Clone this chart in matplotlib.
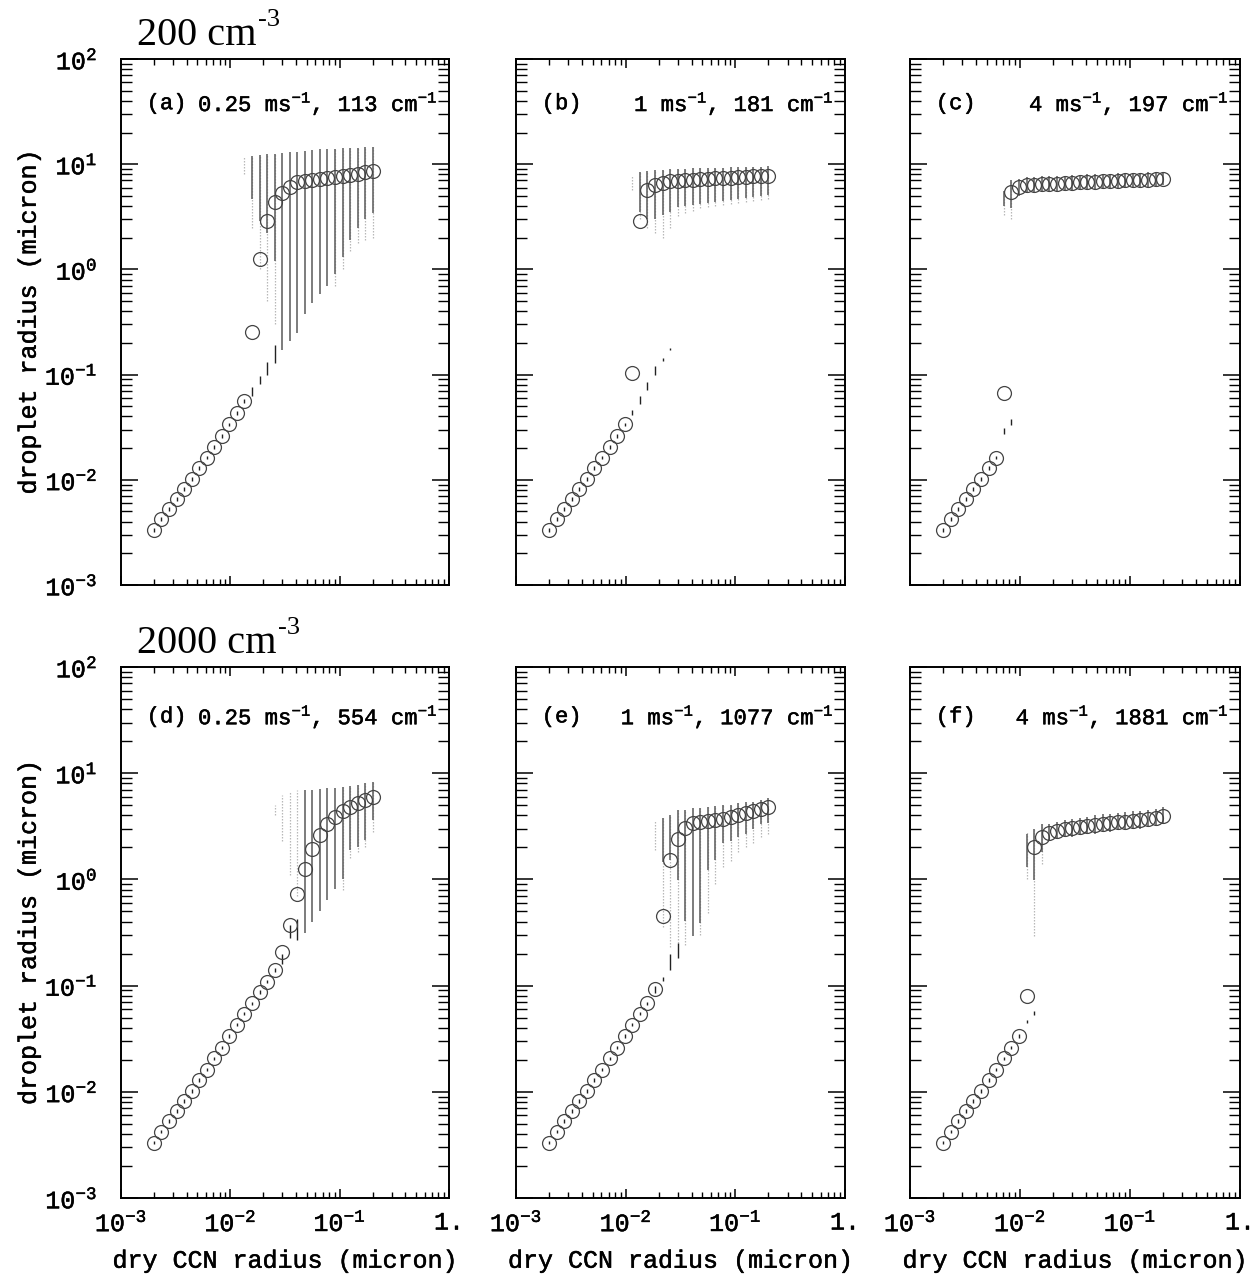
import numpy as np
import matplotlib
matplotlib.use("Agg")
import matplotlib.pyplot as plt
import matplotlib.patheffects as pe
from matplotlib.ticker import FixedLocator, FixedFormatter, LogLocator, NullFormatter

NA = None

# ---------------- data ----------------
DRY_RADIUS = [0.002, 0.002344, 0.002748, 0.003221, 0.003776, 0.004427, 0.005189, 0.006082,
              0.007130, 0.008358, 0.009797, 0.011484, 0.013462, 0.015780, 0.018497, 0.021683,
              0.025417, 0.029794, 0.034924, 0.040938, 0.047988, 0.056252, 0.065939, 0.077295,
              0.090605, 0.106208, 0.124498, 0.145936, 0.171068, 0.2]

X_TICKS = [1e-3, 1e-2, 1e-1, 1.0]
X_TICK_LABELS = [r"$\mathregular{10^{-3}}$", r"$\mathregular{10^{-2}}$", r"$\mathregular{10^{-1}}$", "1."]
Y_TICKS = [1e-3, 1e-2, 1e-1, 1e0, 1e1, 1e2]
Y_TICK_LABELS = [r"$\mathregular{10^{-3}}$", r"$\mathregular{10^{-2}}$", r"$\mathregular{10^{-1}}$",
                 r"$\mathregular{10^{0}}$", r"$\mathregular{10^{1}}$", r"$\mathregular{10^{2}}$"]

ROW_TITLES = ["200 cm", "2000 cm"]
ROW_TITLE_EXP = "-3"
PANEL_TAGS = ["(a)", "(b)", "(c)", "(d)", "(e)", "(f)"]
UPDRAFT = ["0.25", "1", "4", "0.25", "1", "4"]
DROPLET_CONC = ["113", "181", "197", "554", "1077", "1881"]
X_LABEL = "dry CCN radius (micron)"
Y_LABEL = "droplet radius (micron)"

# panel (a)
MEAN_A = [0.00333, 0.00422, 0.00528, 0.00656, 0.00818, 0.0102, 0.0129, 0.0162, 0.0206, 0.0261,
          0.0337, 0.0429, 0.0561, 0.256, 1.26, 2.90, 4.34, 5.36, 6.11, 6.73,
          6.97, 7.15, 7.30, 7.45, 7.60, 7.75, 7.90, 8.10, 8.35, 8.67]
HAZE_LO_A = [0.0032, 0.00405, 0.00507, 0.0063, 0.00785, 0.0098, 0.0124, 0.0156, 0.0198, 0.0251,
             0.0324, 0.0412, 0.0538, 0.062, 0.081, 0.099, 0.13, NA, NA, NA,
             NA, NA, NA, NA, NA, NA, NA, NA, NA, NA]
HAZE_HI_A = [0.00346, 0.00439, 0.00549, 0.00682, 0.0085, 0.0106, 0.0134, 0.0168, 0.0214, 0.0271,
             0.035, 0.0446, 0.0585, 0.077, 0.096, 0.132, 0.19, NA, NA, NA,
             NA, NA, NA, NA, NA, NA, NA, NA, NA, NA]
ACT_LO_A = [NA, NA, NA, NA, NA, NA, NA, NA, NA, NA,
            NA, NA, NA, 4.7, 2.9, 2.2, 1.2, 0.17, 0.21, 0.25,
            0.38, 0.48, 0.58, 0.70, 0.90, 1.3, 1.9, 2.5, 3.0, 3.4]
ACT_HI_A = [NA, NA, NA, NA, NA, NA, NA, NA, NA, NA,
            NA, NA, NA, 12.0, 12.2, 12.4, 12.6, 12.8, 13.0, 13.2,
            13.4, 13.6, 13.8, 14.0, 14.1, 14.2, 14.3, 14.4, 14.5, 14.6]
FAINT_LO_A = [NA, NA, NA, NA, NA, NA, NA, NA, NA, NA,
              NA, NA, 8.0, 2.5, 1.0, 0.5, 0.3, NA, NA, NA,
              NA, NA, NA, NA, 0.7, 1.0, 1.5, 1.8, 1.9, 2.0]
FAINT_HI_A = [NA, NA, NA, NA, NA, NA, NA, NA, NA, NA,
              NA, NA, 12.0, 12.0, 12.2, 12.4, 12.6, NA, NA, NA,
              NA, NA, NA, NA, 14.0, 14.1, 14.2, 14.3, 14.4, 14.5]

# panel (b)
MEAN_B = [0.00333, 0.00422, 0.00528, 0.00656, 0.00818, 0.0102, 0.0129, 0.0162, 0.0206, 0.0261,
          0.0340, 0.103, 2.88, 5.69, 6.34, 6.67, 6.85, 6.95, 7.02, 7.10,
          7.18, 7.25, 7.32, 7.40, 7.47, 7.54, 7.60, 7.66, 7.72, 7.78]
HAZE_LO_B = [0.0032, 0.00405, 0.00507, 0.0063, 0.00785, 0.0098, 0.0124, 0.0156, 0.0198, 0.0251,
             0.0324, 0.041, 0.053, 0.072, 0.10, 0.135, 0.17, NA, NA, NA,
             NA, NA, NA, NA, NA, NA, NA, NA, NA, NA]
HAZE_HI_B = [0.00346, 0.00439, 0.00549, 0.00682, 0.0085, 0.0106, 0.0134, 0.0168, 0.0214, 0.0271,
             0.035, 0.0464, 0.062, 0.085, 0.12, 0.145, 0.18, NA, NA, NA,
             NA, NA, NA, NA, NA, NA, NA, NA, NA, NA]
ACT_LO_B = [NA, NA, NA, NA, NA, NA, NA, NA, NA, NA,
            NA, NA, 3.5, 3.0, 3.0, 3.3, 3.5, 3.9, 4.0, 4.1,
            4.2, 4.3, 4.4, 4.5, 4.6, 4.7, 4.8, 4.9, 5.0, 5.1]
ACT_HI_B = [NA, NA, NA, NA, NA, NA, NA, NA, NA, NA,
            NA, NA, 8.5, 8.6, 8.8, 8.9, 9.0, 9.1, 9.1, 9.2,
            9.2, 9.3, 9.3, 9.3, 9.4, 9.4, 9.5, 9.5, 9.5, 9.6]
FAINT_LO_B = [NA, NA, NA, NA, NA, NA, NA, NA, NA, NA,
              NA, 5.7, 3.0, 2.5, 2.2, 2.0, 2.5, 3.2, 3.4, 3.6,
              3.8, 3.9, 4.0, 4.1, 4.2, 4.3, 4.4, 4.5, 4.6, 4.7]
FAINT_HI_B = [NA, NA, NA, NA, NA, NA, NA, NA, NA, NA,
              NA, 7.9, 8.5, 8.6, 8.8, 8.9, 9.0, 9.1, 9.1, 9.2,
              9.2, 9.3, 9.3, 9.3, 9.4, 9.4, 9.5, 9.5, 9.5, 9.6]

# panel (c)
MEAN_C = [0.00333, 0.00422, 0.00528, 0.00656, 0.00818, 0.0102, 0.0129, 0.0162, 0.0664, 5.4,
          6.1, 6.3, 6.4, 6.45, 6.5, 6.55, 6.6, 6.65, 6.7, 6.75,
          6.8, 6.85, 6.9, 6.95, 7.0, 7.05, 7.1, 7.15, 7.2, 7.3]
HAZE_LO_C = [0.0032, 0.00405, 0.00507, 0.0063, 0.00785, 0.0098, 0.0124, 0.0156, 0.027, 0.033,
             NA, NA, NA, NA, NA, NA, NA, NA, NA, NA,
             NA, NA, NA, NA, NA, NA, NA, NA, NA, NA]
HAZE_HI_C = [0.00346, 0.00439, 0.00549, 0.00682, 0.0085, 0.0106, 0.0134, 0.0168, 0.031, 0.038,
             NA, NA, NA, NA, NA, NA, NA, NA, NA, NA,
             NA, NA, NA, NA, NA, NA, NA, NA, NA, NA]
ACT_LO_C = [NA, NA, NA, NA, NA, NA, NA, NA, 4.0, 3.8,
            5.0, 5.3, 5.4, 5.4, 5.5, 5.5, 5.6, 5.6, 5.7, 5.7,
            5.8, 5.8, 5.9, 5.9, 6.0, 6.0, 6.1, 6.1, 6.2, 6.3]
ACT_HI_C = [NA, NA, NA, NA, NA, NA, NA, NA, 5.6, 7.0,
            7.3, 7.5, 7.6, 7.7, 7.7, 7.8, 7.8, 7.9, 7.9, 8.0,
            8.0, 8.1, 8.1, 8.2, 8.2, 8.3, 8.3, 8.4, 8.4, 8.5]
FAINT_LO_C = [NA, NA, NA, NA, NA, NA, NA, NA, 3.3, 3.0,
              NA, NA, NA, NA, NA, NA, NA, NA, NA, NA,
              NA, NA, NA, NA, NA, NA, NA, NA, NA, NA]
FAINT_HI_C = [NA, NA, NA, NA, NA, NA, NA, NA, 5.6, 7.0,
              NA, NA, NA, NA, NA, NA, NA, NA, NA, NA,
              NA, NA, NA, NA, NA, NA, NA, NA, NA, NA]

# panel (d)
MEAN_D = [0.00333, 0.00422, 0.00528, 0.00656, 0.00818, 0.0102, 0.0129, 0.0162, 0.0206, 0.0261,
          0.0335, 0.0426, 0.054, 0.068, 0.0865, 0.109, 0.140, 0.209, 0.372, 0.724,
          1.25, 1.92, 2.62, 3.30, 3.89, 4.40, 4.84, 5.21, 5.60, 5.93]
HAZE_LO_D = [0.0032, 0.00405, 0.00507, 0.0063, 0.00785, 0.0098, 0.0124, 0.0156, 0.0198, 0.0251,
             0.0324, 0.0412, 0.0523, 0.0653, 0.0835, 0.106, 0.134, 0.16, 0.28, 0.27,
             NA, NA, NA, NA, NA, NA, NA, NA, NA, NA]
HAZE_HI_D = [0.00346, 0.00439, 0.00549, 0.00682, 0.0085, 0.0106, 0.0134, 0.0168, 0.0214, 0.0271,
             0.035, 0.0446, 0.0567, 0.0707, 0.0905, 0.114, 0.146, 0.20, 0.37, 0.42,
             NA, NA, NA, NA, NA, NA, NA, NA, NA, NA]
ACT_LO_D = [NA, NA, NA, NA, NA, NA, NA, NA, NA, NA,
            NA, NA, NA, NA, NA, NA, NA, NA, NA, NA,
            0.31, 0.40, 0.50, 0.64, 0.82, 1.0, 1.9, 2.0, 2.35, 3.6]
ACT_HI_D = [NA, NA, NA, NA, NA, NA, NA, NA, NA, NA,
            NA, NA, NA, NA, NA, NA, NA, NA, NA, NA,
            6.95, 7.0, 7.1, 7.2, 7.3, 7.4, 7.5, 7.8, 8.0, 8.3]
FAINT_LO_D = [NA, NA, NA, NA, NA, NA, NA, NA, NA, NA,
              NA, NA, NA, NA, NA, NA, 4.0, 2.3, 1.1, 0.7,
              NA, NA, NA, NA, NA, 0.8, 1.6, 1.8, 2.0, 2.8]
FAINT_HI_D = [NA, NA, NA, NA, NA, NA, NA, NA, NA, NA,
              NA, NA, NA, NA, NA, NA, 5.0, 6.2, 6.6, 6.95,
              NA, NA, NA, NA, NA, 7.4, 7.5, 7.8, 8.0, 8.3]

# panel (e)
MEAN_E = [0.00333, 0.00422, 0.00528, 0.00656, 0.00818, 0.0102, 0.0129, 0.0162, 0.0206, 0.0261,
          0.0335, 0.0426, 0.054, 0.068, 0.093, 0.452, 1.52, 2.42, 3.03, 3.37,
          3.49, 3.57, 3.62, 3.73, 3.89, 4.04, 4.25, 4.44, 4.60, 4.84]
HAZE_LO_E = [0.0032, 0.00405, 0.00507, 0.0063, 0.00785, 0.0098, 0.0124, 0.0156, 0.0198, 0.0251,
             0.0324, 0.0412, 0.0523, 0.0653, 0.086, 0.11, 0.14, 0.18, NA, NA,
             NA, NA, NA, NA, NA, NA, NA, NA, NA, NA]
HAZE_HI_E = [0.00346, 0.00439, 0.00549, 0.00682, 0.0085, 0.0106, 0.0134, 0.0168, 0.0214, 0.0271,
             0.035, 0.0446, 0.0567, 0.0707, 0.10, 0.12, 0.20, 0.25, NA, NA,
             NA, NA, NA, NA, NA, NA, NA, NA, NA, NA]
ACT_LO_E = [NA, NA, NA, NA, NA, NA, NA, NA, NA, NA,
            NA, NA, NA, NA, NA, 1.46, 1.52, 0.99, 0.41, 0.29,
            0.39, 1.23, 1.52, 2.2, 2.3, 2.5, 2.7, 3.0, 3.3, 3.4]
ACT_HI_E = [NA, NA, NA, NA, NA, NA, NA, NA, NA, NA,
            NA, NA, NA, NA, NA, 3.8, 4.0, 4.5, 4.5, 4.7,
            4.7, 4.8, 4.9, 5.0, 5.0, 5.2, 5.4, 5.4, 5.6, 5.8]
FAINT_LO_E = [NA, NA, NA, NA, NA, NA, NA, NA, NA, NA,
              NA, NA, NA, NA, 1.9, 0.36, 0.23, 0.25, 0.24, NA,
              0.3, 0.48, 0.9, 1.3, 1.5, 1.8, 2.0, 2.2, 2.5, 2.7]
FAINT_HI_E = [NA, NA, NA, NA, NA, NA, NA, NA, NA, NA,
              NA, NA, NA, NA, 3.6, 3.8, 4.0, 4.5, 4.5, NA,
              4.7, 4.8, 4.9, 5.0, 5.0, 5.2, 5.4, 5.4, 5.6, 5.8]

# panel (f)
MEAN_F = [0.00333, 0.00422, 0.00528, 0.00656, 0.00818, 0.0102, 0.0129, 0.0162, 0.0206, 0.0261,
          0.0335, 0.0798, 2.03, 2.52, 2.72, 2.88, 2.96, 3.03, 3.10, 3.19,
          3.25, 3.33, 3.37, 3.45, 3.49, 3.57, 3.62, 3.71, 3.81, 3.95]
HAZE_LO_F = [0.0032, 0.00405, 0.00507, 0.0063, 0.00785, 0.0098, 0.0124, 0.0156, 0.0198, 0.0251,
             0.0324, 0.044, 0.053, NA, NA, NA, NA, NA, NA, NA,
             NA, NA, NA, NA, NA, NA, NA, NA, NA, NA]
HAZE_HI_F = [0.00346, 0.00439, 0.00549, 0.00682, 0.0085, 0.0106, 0.0134, 0.0168, 0.0214, 0.0271,
             0.035, 0.047, 0.058, NA, NA, NA, NA, NA, NA, NA,
             NA, NA, NA, NA, NA, NA, NA, NA, NA, NA]
ACT_LO_F = [NA, NA, NA, NA, NA, NA, NA, NA, NA, NA,
            NA, 1.3, 0.99, 1.8, 2.3, 2.4, 2.5, 2.5, 2.6, 2.7,
            2.7, 2.8, 2.8, 2.9, 2.9, 3.0, 3.0, 3.1, 3.2, 3.3]
ACT_HI_F = [NA, NA, NA, NA, NA, NA, NA, NA, NA, NA,
            NA, 2.7, 3.0, 3.3, 3.3, 3.5, 3.6, 3.7, 3.8, 3.9,
            4.0, 4.1, 4.1, 4.2, 4.3, 4.4, 4.4, 4.5, 4.6, 4.8]
FAINT_LO_F = [NA, NA, NA, NA, NA, NA, NA, NA, NA, NA,
              NA, 1.0, 0.29, 1.4, NA, NA, NA, NA, NA, NA,
              NA, NA, NA, NA, NA, NA, NA, NA, NA, NA]
FAINT_HI_F = [NA, NA, NA, NA, NA, NA, NA, NA, NA, NA,
              NA, 2.8, 3.0, 3.3, NA, NA, NA, NA, NA, NA,
              NA, NA, NA, NA, NA, NA, NA, NA, NA, NA]

PANELS = [
    (MEAN_A, HAZE_LO_A, HAZE_HI_A, ACT_LO_A, ACT_HI_A, FAINT_LO_A, FAINT_HI_A),
    (MEAN_B, HAZE_LO_B, HAZE_HI_B, ACT_LO_B, ACT_HI_B, FAINT_LO_B, FAINT_HI_B),
    (MEAN_C, HAZE_LO_C, HAZE_HI_C, ACT_LO_C, ACT_HI_C, FAINT_LO_C, FAINT_HI_C),
    (MEAN_D, HAZE_LO_D, HAZE_HI_D, ACT_LO_D, ACT_HI_D, FAINT_LO_D, FAINT_HI_D),
    (MEAN_E, HAZE_LO_E, HAZE_HI_E, ACT_LO_E, ACT_HI_E, FAINT_LO_E, FAINT_HI_E),
    (MEAN_F, HAZE_LO_F, HAZE_HI_F, ACT_LO_F, ACT_HI_F, FAINT_LO_F, FAINT_HI_F),
]

# ---------------- style / layout ----------------
MONO = "Liberation Mono"
THICK = [pe.withStroke(linewidth=0.35, foreground="black")]
SERIF = "Liberation Serif"
W, H = 1257, 1278
COL_LEFT = [121, 516, 910]
COL_RIGHT = [449, 845, 1240]
ROW_TOP = [59, 667]
ROW_BOT = [585, 1198]

fig = plt.figure(figsize=(W / 100, H / 100), dpi=100)
fig.patch.set_facecolor("white")

x = np.array(DRY_RADIUS, dtype=float)


def segs(ax, lo, hi, **kw):
    lo = np.array(lo, dtype=float)
    hi = np.array(hi, dtype=float)
    m = ~(np.isnan(lo) | np.isnan(hi))
    if m.any():
        ax.vlines(x[m], lo[m], hi[m], **kw)


for k, (mean, hlo, hhi, alo, ahi, flo, fhi) in enumerate(PANELS):
    r, c = divmod(k, 3)
    l, rr = COL_LEFT[c], COL_RIGHT[c]
    t, b = ROW_TOP[r], ROW_BOT[r]
    ax = fig.add_axes([l / W, 1 - b / H, (rr - l) / W, (b - t) / H])
    ax.set_xscale("log")
    ax.set_yscale("log")
    ax.set_xlim(X_TICKS[0], X_TICKS[-1])
    ax.set_ylim(Y_TICKS[0], Y_TICKS[-1])

    segs(ax, flo, fhi, colors="#b8b8b8", linewidths=0.9, linestyles=(0, (1.2, 1.2)), zorder=1)
    segs(ax, alo, ahi, colors="#666666", linewidths=1.2, zorder=2)
    segs(ax, hlo, hhi, colors="#222222", linewidths=1.0, zorder=2)
    ax.plot(x, np.array(mean, dtype=float), linestyle="none", marker="o", markersize=10,
            markerfacecolor="none", markeredgecolor="#444444", markeredgewidth=0.9, zorder=3)

    ax.xaxis.set_major_locator(FixedLocator(X_TICKS))
    ax.yaxis.set_major_locator(FixedLocator(Y_TICKS))
    ax.xaxis.set_minor_locator(LogLocator(base=10, subs=np.arange(2, 10)))
    ax.yaxis.set_minor_locator(LogLocator(base=10, subs=np.arange(2, 10)))
    ax.xaxis.set_minor_formatter(NullFormatter())
    ax.yaxis.set_minor_formatter(NullFormatter())
    if r == 1:
        ax.xaxis.set_major_formatter(FixedFormatter(X_TICK_LABELS))
        ax.set_xlabel(X_LABEL, fontfamily=MONO, fontsize=18, labelpad=9, path_effects=THICK)
    else:
        ax.xaxis.set_major_formatter(NullFormatter())
    if c == 0:
        ax.yaxis.set_major_formatter(FixedFormatter(Y_TICK_LABELS))
        ax.set_ylabel(Y_LABEL, fontfamily=MONO, fontsize=18, labelpad=3, path_effects=THICK)
    else:
        ax.yaxis.set_major_formatter(NullFormatter())

    ax.tick_params(axis="x", which="major", direction="in", length=6.5, width=1.1,
                   top=True, bottom=True, pad=9, labelsize=18)
    ax.tick_params(axis="x", which="minor", direction="in", length=4, width=1.0,
                   top=True, bottom=True)
    ax.tick_params(axis="y", which="major", direction="in", length=12, width=1.1,
                   left=True, right=True, pad=17, labelsize=18)
    ax.tick_params(axis="y", which="minor", direction="in", length=8, width=1.0,
                   left=True, right=True)
    for lab in ax.get_xticklabels() + ax.get_yticklabels():
        lab.set_fontfamily(MONO)
        lab.set_path_effects(THICK)
    for sp in ax.spines.values():
        sp.set_linewidth(1.4)

    ty = 0.915 if r == 0 else 0.906
    ax.text(0.078, ty, PANEL_TAGS[k], transform=ax.transAxes,
            fontfamily=MONO, fontsize=16, ha="left", va="center", path_effects=THICK)
    ax.text(0.966, ty,
            UPDRAFT[k] + r" ms$^{\mathregular{-1}}$, " + DROPLET_CONC[k] + r" cm$^{\mathregular{-1}}$",
            transform=ax.transAxes, fontfamily=MONO, fontsize=16,
            ha="right", va="center", path_effects=THICK)

    if c == 0:
        tt = ax.text((137 - l) / (rr - l), 1 + 14 / (b - t), ROW_TITLES[r],
                     transform=ax.transAxes, fontfamily=SERIF, fontsize=29,
                     ha="left", va="baseline")
        ax.annotate(ROW_TITLE_EXP, xy=(1.0, 0.62), xycoords=tt, xytext=(1, 0),
                    textcoords="offset points", fontfamily=SERIF, fontsize=19,
                    ha="left", va="bottom")

fig.savefig("out.png", dpi=100, facecolor="white")
